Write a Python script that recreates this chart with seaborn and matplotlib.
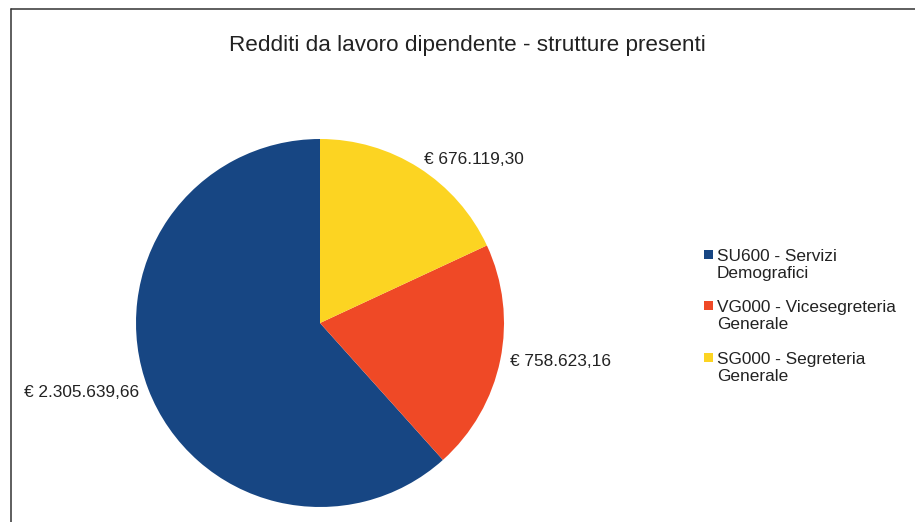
import matplotlib
matplotlib.use("Agg")
import matplotlib.pyplot as plt
import seaborn as sns
from matplotlib.patches import Rectangle, Patch
from matplotlib.legend_handler import HandlerPatch

sns.set_theme(style="white")
plt.rcParams['font.family'] = ['Liberation Sans', 'DejaVu Sans']

title = "Redditi da lavoro dipendente - strutture presenti"
categories = ["SU600 - Servizi Demografici",
              "VG000 - Vicesegreteria Generale",
              "SG000 - Segreteria Generale"]
legend_labels = ["SU600 - Servizi\nDemografici",
                 "VG000 - Vicesegreteria\nGenerale",
                 "SG000 - Segreteria\nGenerale"]
values = [2305639.66, 758623.16, 676119.30]
value_labels = ["€ 2.305.639,66", "€ 758.623,16", "€ 676.119,30"]
colors = ["#174683", "#ef4926", "#fcd422"]

W, H = 915, 522
fig = plt.figure(figsize=(W / 100, H / 100), dpi=100)
fig.patch.set_facecolor("white")

# frame lines (top and left)
fig.add_artist(plt.Line2D([10.5 / W, 1.0], [1 - 8.5 / H, 1 - 8.5 / H],
                          transform=fig.transFigure, color="#333333", lw=1.1))
fig.add_artist(plt.Line2D([10.5 / W, 10.5 / W], [0, 1 - 8.5 / H],
                          transform=fig.transFigure, color="#333333", lw=1.1))

cx, cy, r = 320, 323, 184
ax = fig.add_axes([(cx - r) / W, (H - cy - r) / H, 2 * r / W, 2 * r / H])
wedges, texts = ax.pie(values, colors=colors, startangle=90, counterclock=True,
                       labels=value_labels, labeldistance=1.055,
                       wedgeprops=dict(linewidth=0),
                       textprops=dict(fontsize=12.4, color="#222222"))
ax.set_xlim(-1, 1)
ax.set_ylim(-1, 1)
ax.set_aspect("equal")
ax.axis("off")

fig.text(467 / W, 1 - 46 / H, title, ha="center", va="center",
         fontsize=16.2, color="#222222")


def top_square(legend, orig_handle, xdescent, ydescent, width, height, fontsize):
    sq = 9 * 72 / 100.0  # points
    return Rectangle((-xdescent, -ydescent + height - sq + 1.5), sq, sq)


handles = [Patch(facecolor=c, edgecolor="none") for c in colors]
leg = fig.legend(handles, legend_labels, loc="upper left",
                 bbox_to_anchor=(704 / W, 1 - 249 / H), frameon=False,
                 fontsize=12.4, handlelength=0.5, handleheight=2.0,
                 handletextpad=0.25, labelspacing=1.12, borderpad=0,
                 borderaxespad=0,
                 handler_map={Patch: HandlerPatch(patch_func=top_square)})
for t in leg.get_texts():
    t.set_color("#222222")
    t.set_linespacing(1.17)

fig.savefig("out.png", dpi=100)
